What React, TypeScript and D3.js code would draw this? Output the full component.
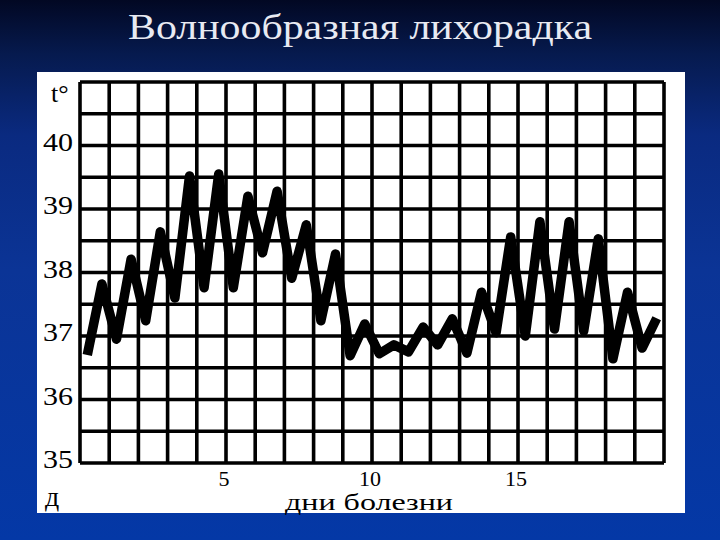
import React from "react";
import * as d3 from "d3";

const title = "Волнообразная лихорадка";
// two readings per day (morning, evening), 20 days
const temps: number[] = [
  36.7, 37.82, 36.95, 38.21, 37.24, 38.64, 37.6, 39.52, 37.76, 39.55,
  37.76, 39.2, 38.31, 39.28, 37.91, 38.75, 37.24, 38.29, 36.69, 37.19,
  36.72, 36.86, 36.75, 37.14, 36.86, 37.27, 36.73, 37.69, 37.05, 38.56,
  37.0, 38.8, 37.11, 38.8, 37.08, 38.53, 36.64, 37.69, 36.81, 37.28,
];
const yTickLabels: number[] = [40, 39, 38, 37, 36, 35];
const dayTickLabels: number[] = [5, 10, 15];
const dayCount = 20;
const yLabel = "t°";
const xLabelLeft = "д";
const xLabel = "дни болезни";

const W = 720;
const H = 540;
const left = 80;
const right = 664;
const top = 82;
const bottom = 463;
const serif = "Liberation Serif, DejaVu Serif, Times New Roman, serif";

export default function App() {
  const x = d3.scaleLinear().domain([0, dayCount]).range([left, right]);
  const y = d3.scaleLinear().domain([35, 41]).range([bottom, top]);
  const vLines = d3.range(0, dayCount + 1);
  const hLines = d3.range(35, 41.01, 0.5);
  const line = d3
    .line<number>()
    .x((_, i) => x((i + 0.5) / 2))
    .y((d) => y(d));

  return (
    <svg
      width={W}
      height={H}
      style={{ position: "absolute", left: 0, top: 0, display: "block" }}
    >
      <defs>
        <linearGradient id="bg" x1="0" y1="0" x2="0" y2="1">
          <stop offset="0" stopColor="#020823" />
          <stop offset="0.1" stopColor="#061a4e" />
          <stop offset="0.25" stopColor="#0a2a80" />
          <stop offset="0.5" stopColor="#0b3496" />
          <stop offset="1" stopColor="#0438a6" />
        </linearGradient>
      </defs>
      <rect x={0} y={0} width={W} height={H} fill="url(#bg)" />
      <text
        x={360}
        y={39}
        textAnchor="middle"
        fill="#e8eaf2"
        style={{ fontFamily: serif }}
        fontSize={36}
        textLength={464}
        lengthAdjust="spacingAndGlyphs"
      >
        {title}
      </text>
      <rect x={37} y={72} width={648} height={441} fill="#ffffff" />
      <g stroke="#000" strokeWidth={3.6}>
        {vLines.map((k) => (
          <line key={"v" + k} x1={x(k)} x2={x(k)} y1={top} y2={bottom} />
        ))}
        {hLines.map((t) => (
          <line key={"h" + t} x1={left} x2={right} y1={y(t)} y2={y(t)} />
        ))}
      </g>
      <path
        d={line(temps) || ""}
        fill="none"
        stroke="#000"
        strokeWidth={9.5}
        strokeLinejoin="round"
        strokeLinecap="butt"
      />
      <g style={{ fontFamily: serif }} fill="#000">
        {yTickLabels.map((t) => (
          <text
            key={t}
            x={73}
            y={y(t) + 5}
            textAnchor="end"
            fontSize={25}
            textLength={30}
            lengthAdjust="spacingAndGlyphs"
          >
            {t}
          </text>
        ))}
        {dayTickLabels.map((d) => (
          <text key={d} x={x(d) - 2} y={486} textAnchor="middle" fontSize={22}>
            {d}
          </text>
        ))}
        <text x={51} y={102} fontSize={26}>
          {yLabel}
        </text>
        <text x={45} y={506} fontSize={28}>
          {xLabelLeft}
        </text>
        <text
          x={369}
          y={510}
          textAnchor="middle"
          fontSize={24}
          textLength={168}
          lengthAdjust="spacingAndGlyphs"
        >
          {xLabel}
        </text>
      </g>
    </svg>
  );
}
